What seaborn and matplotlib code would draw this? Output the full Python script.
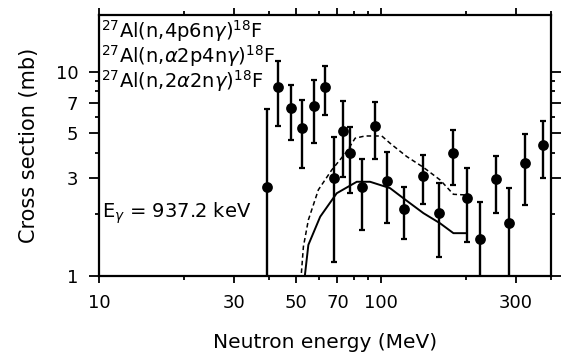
import numpy as np
import pandas as pd
import matplotlib
matplotlib.use("Agg")
import matplotlib.pyplot as plt
import seaborn as sns
from matplotlib.ticker import FixedLocator, NullFormatter, FixedFormatter

# Data points: neutron energy (MeV), cross section (mb), error bar ends
energy = [39.5, 43.0, 47.8, 52.6, 57.8, 63.0, 68.1, 73.1, 77.6, 85.9, 95.3,
          105, 120.8, 140.3, 160.3, 180, 201, 225, 255, 284, 325, 376]
sigma = [2.74, 8.39, 6.62, 5.28, 6.8, 8.39, 3.01, 5.14, 4.01, 2.71, 5.44,
         2.93, 2.12, 3.09, 2.04, 3.98, 2.42, 1.52, 2.98, 1.82, 3.56, 4.38]
err_hi = [6.57, 11.3, 8.61, 7.27, 9.1, 10.7, 4.81, 7.21, 5.38, 3.73, 7.13,
          4.03, 2.72, 3.91, 2.84, 5.18, 3.39, 2.30, 3.88, 2.69, 4.96, 5.74]
err_lo = [0.5, 5.44, 4.63, 3.37, 4.46, 6.14, 1.17, 3.06, 2.56, 1.67, 3.74,
          1.81, 1.51, 2.24, 1.24, 2.78, 1.46, 0.5, 2.04, 0.5, 2.23, 3.03]

# Calculated curves
dash_e = [51.9, 53.0, 55.2, 59.9, 66.8, 75.5, 80.9, 87.7, 100.6, 107.6, 123.3,
          141.3, 162, 180.6, 201]
dash_s = [0.95, 1.39, 1.88, 2.64, 3.30, 4.06, 4.72, 4.84, 4.84, 4.46, 3.84,
          3.40, 2.95, 2.51, 2.49]
solid_e = [53.4, 55.2, 60.8, 69.6, 82, 91.4, 107.6, 120, 141.3, 162, 180.6, 201]
solid_s = [0.95, 1.42, 1.95, 2.54, 2.89, 2.89, 2.69, 2.40, 2.03, 1.81, 1.62, 1.62]

x_ticklabels = ["10", "30", "50", "70", "100", "300"]
y_ticklabels = ["1", "3", "5", "7", "10"]

sns.set_style("ticks")
plt.rcParams['font.family'] = ['DejaVu Sans']
plt.rcParams['text.color'] = 'black'
plt.rcParams['axes.labelcolor'] = 'black'
plt.rcParams['mathtext.fontset'] = 'dejavusans'

fig = plt.figure(figsize=(5.61, 3.56), dpi=100)
ax = fig.add_axes([0.177, 0.2247, 0.9817 - 0.177, 0.9565 - 0.2247])

df_pts = pd.DataFrame({"E": energy, "S": sigma})
df_dash = pd.DataFrame({"E": dash_e, "S": dash_s})
df_solid = pd.DataFrame({"E": solid_e, "S": solid_s})

sig = np.array(sigma)
yerr = np.vstack([sig - np.array(err_lo), np.array(err_hi) - sig])
ax.errorbar(energy, sigma, yerr=yerr, fmt="none", ecolor="black",
            elinewidth=1.7, capsize=2.2, capthick=1.6, zorder=3)
sns.scatterplot(data=df_pts, x="E", y="S", ax=ax, color="black", s=60,
                edgecolor="black", linewidth=0, zorder=4)
sns.lineplot(data=df_dash, x="E", y="S", ax=ax, sort=False, color="black",
             linewidth=1.1, linestyle=(0, (3, 2)), zorder=2)
sns.lineplot(data=df_solid, x="E", y="S", ax=ax, sort=False, color="black",
             linewidth=1.4, zorder=2)

ax.set_xscale("log")
ax.set_yscale("log")
ax.set_xlim(10, 400)
ax.set_ylim(1, 18.8)

xmajor = [10, 30, 50, 70, 100, 300]
ax.xaxis.set_major_locator(FixedLocator(xmajor))
ax.xaxis.set_major_formatter(FixedFormatter(x_ticklabels))
ax.xaxis.set_minor_locator(FixedLocator([20, 40, 60, 80, 90, 200, 400]))
ax.xaxis.set_minor_formatter(NullFormatter())
ymajor = [1, 3, 5, 7, 10]
ax.yaxis.set_major_locator(FixedLocator(ymajor))
ax.yaxis.set_major_formatter(FixedFormatter(y_ticklabels))
ax.yaxis.set_minor_locator(FixedLocator([2, 4, 6, 8, 9]))
ax.yaxis.set_minor_formatter(NullFormatter())

for s in ax.spines.values():
    s.set_visible(True)
    s.set_linewidth(1.6)
    s.set_color("black")
ax.tick_params(which="both", direction="out", top=True, right=True,
               width=1.3, color="black", labelsize=13, labelcolor="black")
ax.tick_params(axis="x", which="major", length=5, pad=8)
ax.tick_params(axis="y", which="major", length=7, pad=8)
ax.tick_params(which="minor", length=3)

ax.set_xlabel("Neutron energy (MeV)", fontsize=14.5, labelpad=15)
ax.set_ylabel("Cross section (mb)", fontsize=15, labelpad=12)

lbls = [r"$^{27}$Al(n,4p6n$\gamma$)$^{18}$F",
        r"$^{27}$Al(n,$\alpha$2p4n$\gamma$)$^{18}$F",
        r"$^{27}$Al(n,2$\alpha$2n$\gamma$)$^{18}$F"]
for i, t in enumerate(lbls):
    ax.text(0.003, 0.9136 - i * 0.096, t, transform=ax.transAxes,
            fontsize=14, va="baseline", ha="left")
ax.text(0.005, 0.24, r"E$_\gamma$ = 937.2 keV", transform=ax.transAxes,
        fontsize=14, va="center", ha="left")

fig.savefig("out.png", dpi=100)
